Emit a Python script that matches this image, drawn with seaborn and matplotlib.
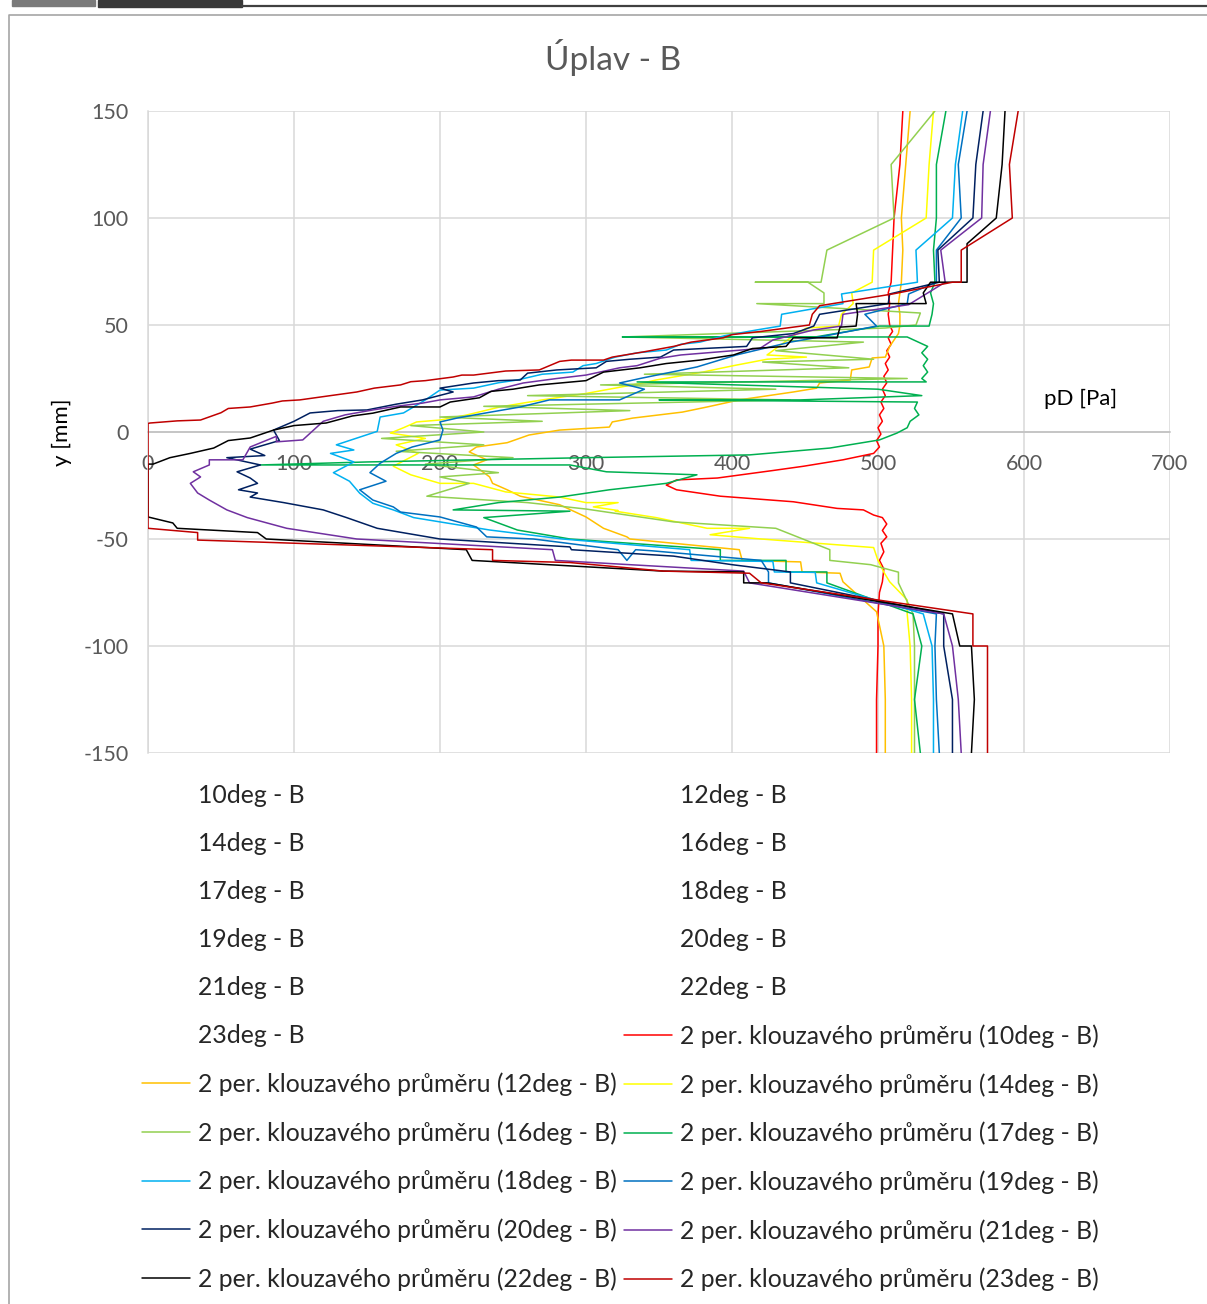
import matplotlib
matplotlib.use("Agg")
import matplotlib.pyplot as plt
from matplotlib.lines import Line2D
from matplotlib.patches import Rectangle
import seaborn as sns
import pandas as pd

# ---- series: (pD [Pa], y [mm]) vertices of the 2-period moving averages, top to bottom ----
ANGLES = ["10deg", "12deg", "14deg", "16deg", "17deg", "18deg",
          "19deg", "20deg", "21deg", "22deg", "23deg"]

MA_10 = [(517,150),(515,125),(511,100),(510,85),(509,70),(507,65),(508,60),(507,55),(508,50),
         (510,47),(507,44),(509,41),(506,38),(508,35),(505,32),(507,29),(504,26),(506,23),(503,20),
         (505,17),(502,14),(504,11),(501,8),(503,5),(500,2),(502,-1),(499,-4),(501,-7),(497,-10),
         (476,-13),(449,-16),(428,-18),(390,-21.5),(362,-22.4),(355,-24.8),(362,-27),(392,-30),
         (442,-32.6),(472,-35.7),(490,-36.4),(497,-38.8),(503,-40),(506,-43),(503,-46),(506,-49),
         (502,-52),(504,-56),(501,-60),(504,-64),(503,-70),(501,-75),(500,-85),(500,-100),
         (499,-125),(499,-150)]
MA_12 = [(522,150),(519,125),(516,100),(517,85),(516,70),(515,65),(514,60),(515,55),(515,50),
         (514,46),(508,40),(505,35),(496,34.6),(494,30.4),(482,29),(481,24.3),(460,22.9),(458,20.5),
         (442,18.7),(405,15),(383,11.7),(366,9.3),(332,6.5),(318,4.7),(316,2.3),(282,0.9),(261,-1.4),
         (246,-5),(225,-7),(220,-9.3),(232,-13),(223,-15.4),(234,-21),(236,-24),(246,-27),(255,-30),
         (282,-34),(300,-39.7),(312,-45),(328,-49),(330,-50),(405,-55),(407,-60),(447,-60.7),
         (448,-65.4),(474,-66),(476,-70),(499,-84),(504,-100),(505,-125),(505,-150)]
MA_14 = [(538,150),(535,125),(533,100),(497,85),(496,70),(482,65),(483,60),(475,55),(473,49.5),
         (451,48.6),(440,44),(424,36),(451,35),(424,34),(401,31),(380,28),(348,24.3),(339,22.9),
         (300,18),(270,15),(241,11.7),(218,7.9),(200,5.6),(184,4.7),(175,2),(166,-0.5),(190,-3),
         (170,-6),(185,-10),(168,-16),(180,-20),(200,-24),(223,-24),(245,-28),(282,-30.4),(300,-33),
         (322,-33),(305,-35),(322,-36.7),(320,-37),(348,-40),(383,-45),(412,-45),(385,-48),(420,-50),
         (497,-54),(500,-60),(504,-65.5),(508,-70),(520,-78.5),(520,-85),(522,-100),(523,-125),
         (523,-150)]
MA_16 = [(539,150),(509,125),(511,100),(465,85),(461,70),(416,70),(452,70),(463,65),(463,60),
         (417,60),(529,55.6),(526,50),(505,48.6),(325,44.4),(490,42),(430,38),(497,34),(421,32.7),
         (480,30),(340,27),(520,25),(310,22),(430,20),(260,17),(440,15),(230,12),(330,10),(200,7),
         (270,5),(180,3),(230,0),(160,-3),(230,-6),(170,-9),(250,-12),(190,-15),(240,-19),(200,-21),
         (220,-24),(191,-30),(260,-33),(300,-36),(330,-39),(360,-42),(430,-45),(467,-55),(467,-60),
         (495,-62),(514,-65.5),(514,-70.5),(524,-85),(525,-100),(525,-125),(525,-150)]
MA_17 = [(546.5,150),(540,125),(540,100),(538,85),(539,70),(536,65),(538,60),(537,55),(535,49.5),
         (501,49.5),(457,44.4),(325,44.4),(520,44.4),(534,40),(530,37),(534,34),(531,31),(534,28),
         (530,25),(533,23.4),(335,23.4),(500,20),(530,17),(447,15),(350,15),(527,14),(525,11),
         (528,8),(522,5),(520,2),(513,-0.5),(501,-3.7),(467,-7.5),(412,-10.7),(300,-12),(150,-14),
         (77,-15.4),(289,-15.4),(314,-18.6),(376,-20),(355,-24),(316,-27),(282,-30.4),(240,-33),
         (209,-36.4),(289,-37),(230,-40),(253,-45.8),(289,-50),(392,-55),(392,-60),(437,-60),
         (437,-65.4),(465,-65.4),(465,-70.5),(524,-85),(530,-100),(525,-125),(529,-150)]
MA_18 = [(558,150),(553,125),(551,100),(526,85),(527,70),(475,64.5),(476,60),(434,55),(433,49.5),
         (417,47.7),(395,45),(378,42),(365,41),(355,38.3),(335,37),(320,35),(307,32),(298,31),
         (291,28),(270,27),(253,24.3),(240,23),(223,20.5),(200,19.6),(190,15),(175,8.9),(159,7),
         (157,0.3),(129,-6),(141,-8.4),(125,-10),(141,-14),(127,-19),
         (138,-23),(145,-28.6),(154,-33.3),(168,-36.4),(182,-40),(234,-45.8),(284,-50),(371,-55),
         (372,-60),(428,-60.5),(429,-65.4),(457,-65.6),(458,-70.5),(531,-85),(537,-100),(538,-125),
         (538,-150)]
MA_19 = [(561,150),(555,125),(557,100),(540,85),(540,70),(521,64.5),(520,60),(491,55),(499,49.5),
         (460,44.4),(440,42),(403,36),(376,30.4),(337,25),(323,22.9),(340,20),(323,15),(275,15),
         (255,11.7),(223,7.9),(211.6,6.5),(200,4.7),(202,0.9),(200,-3.7),(181,-7),(170,-10),
         (159,-14.6),(152,-19),(163,-23),(145,-27),(154,-31.8),(168,-35),(173,-37.4),(200,-39.7),
         (225,-44.4),(232,-49),(264,-50),(322,-55),(328,-60),(334,-55),(345,-55.5),(420,-60),
         (425,-65.4),(425,-70.5),(540,-85),(539,-100),(540,-125),(542,-150)]
MA_20 = [(572,150),(567,125),(565,100),(541,85),(542,70),(508,64.5),(507,60),(460,55),(456,49.5),
         (442,46),(414,44),(410,40),(380,39),(360,38.3),(351,35),(330,34),(314,33),(307,30),
         (280,29),(260,27.5),(255,24.3),(240,24),(223,22.9),(200,20.5),(209,18.7),(188,15),
         (170,13),(150,10.3),(130,10),(111,8.9),(100,5),(86,0.9),(90,-4),
         (70,-8),(80,-11),(54,-12),(77,-15.4),(61,-18.6),(70,-21.5),(75,-24),(62,-27),(75,-28.5),
         (70,-30.4),(93,-33),(120,-36.4),(136,-40),(157,-45),(200,-50),(289,-53.7),(290,-55),
         (360,-58),(400,-62),(440,-65.4),(440,-70.5),(545,-85),(545,-100),(551,-125),(551,-150)]
MA_21 = [(577,150),(572,125),(571,100),(543,85),(546,70),(521,59.5),(476,55),(475,49.5),
         (456,47.7),(428,43),(419,39),(383,37),(365,36),(351,34.5),(335,31),(323,30),(300,26.6),
         (280,25),(257,22.9),(240,20),(223,16.4),(200,15),(188,13.5),(170,12),(154,10.3),(135,8),
         (120,5),(106,-3.7),(88,-4.6),(88,-2),(70,-7),(65,-13),
         (42,-13),(42,-15.4),(31,-18.6),(36,-21),(29,-24),(34,-28.5),(42,-31.8),(54,-36.4),(68,-40),
         (95,-45),(143,-50),(277,-55),(279,-60),(330,-62),(408,-65),(412,-70.5),(545,-85),(551,-100),
         (555,-125),(557,-150)]
MA_22 = [(587,150),(585,125),(581,100),(561,88),(561,70),(536,70),(531,65),(533,60),(485,60),
         (486,55),(485,49.5),(474,49),(472,44),(442,44),(437,40),(414,39),(401,36),(378,33.6),
         (355,32),(337,30),(312,28),(300,24),(268,22),(250,20),(235,19),(227,16),(207,14),(200,11.7),
         (173,11.7),(154,8.8),(140,7.5),(122,4.2),(100,3),(86,0.9),(70,-2.8),(55,-4),(45,-7.5),
         (29,-10),(15,-12),(3.5,-15),(0,-15),
         (0,-39.7),(17,-42.5),(20,-45),(75,-47),(81,-50),(218,-55),(222,-60),(353,-65),(408,-65.4),
         (408,-70.5),(424,-70.5),(551,-85),(556,-100),(564,-100),(566,-125),(564,-150)]
MA_23 = [(596,150),(590,125),(592,100),(557,85),(557,70),(551,70),(510,64.5),(460,59),(455,55),
         (453,50),(420,47),(400,45.5),(394,44),(372,42),(360,40),(340,37.5),(318,35),(312,33.6),
         (290,33.6),(282,33),(275,31),(268,29),(245,28.5),(223,26.6),(215,26.6),(209,25.7),
         (190,24),(180,23.5),(173,22),(155,20.5),(143,18.7),(125,17),(104,15),(92,14.5),(85,13.5),
         (70,11.7),(55,11),(50,9),(36,5.6),(20,5.2),(1.4,4.2),(0,4),(0,-45),(34,-47),(34,-50.5),
         (236,-55),(236,-60),(289,-61),(353,-65),(412,-66),(420,-70.5),(565,-85),(565,-100),
         (575,-100),(575,-125),(575,-150)]

SERIES = [MA_10, MA_12, MA_14, MA_16, MA_17, MA_18, MA_19, MA_20, MA_21, MA_22, MA_23]
COLORS = ["#FF0000", "#FFC000", "#FFFF00", "#92D050", "#00B050", "#00B0F0",
          "#0070C0", "#002060", "#7030A0", "#000000", "#C00000"]

X_TICKS = [0, 100, 200, 300, 400, 500, 600, 700]
Y_TICKS = [-150, -100, -50, 0, 50, 100, 150]

# ---- long table for seaborn ----
rows = []
for ang, pts in zip(ANGLES, SERIES):
    name = f"2 per. klouzavého průměru ({ang} - B)"
    for order, (px, py) in enumerate(pts):
        rows.append({"series": name, "order": order, "pD": px, "y": py})
df = pd.DataFrame(rows)
ma_names = [f"2 per. klouzavého průměru ({a} - B)" for a in ANGLES]
palette = dict(zip(ma_names, COLORS))

sns.set_theme(style="white")
FONT = ["Lato", "DejaVu Sans"]
plt.rcParams["font.family"] = FONT
plt.rcParams["axes.unicode_minus"] = False

W, H = 1207, 1304
fig = plt.figure(figsize=(W / 100, H / 100), dpi=100)

def fx(px):
    return px / W

def fy(py):
    return 1 - py / H

# frame strip and chart border
fig.patches.append(Rectangle((fx(12), fy(6)), fx(83), 6 / H, transform=fig.transFigure,
                             color="#7a7a7a", zorder=0))
fig.patches.append(Rectangle((fx(98), fy(7)), fx(144), 7 / H, transform=fig.transFigure,
                             color="#383838", zorder=0))
fig.lines.append(Line2D([fx(242), 1], [fy(6), fy(6)], transform=fig.transFigure,
                        color="#404040", lw=1.6))
fig.lines.append(Line2D([fx(9), fx(9), 1], [0, fy(15), fy(15)], transform=fig.transFigure,
                        color="#a6a6a6", lw=1.2))

ax = fig.add_axes([fx(148), fy(753), fx(1170 - 148), (753 - 111) / H])
sns.lineplot(data=df, x="pD", y="y", hue="series", hue_order=ma_names, palette=palette,
             sort=False, estimator=None, legend=False, lw=1.1, zorder=3, ax=ax)

ax.set_xlim(0, 700)
ax.set_ylim(-150, 150)
ax.set_xticks(X_TICKS)
ax.set_yticks(Y_TICKS)
ax.grid(True, color="#d9d9d9", lw=1.1)
ax.set_axisbelow(True)
for s in ["top", "right"]:
    ax.spines[s].set_visible(False)
ax.spines["left"].set_color("#d9d9d9")
ax.spines["left"].set_linewidth(1.1)
ax.spines["left"].set_zorder(1)
ax.spines["bottom"].set_position(("data", 0))
ax.spines["bottom"].set_color("#bfbfbf")
ax.spines["bottom"].set_linewidth(1.1)
ax.spines["bottom"].set_zorder(1)
ax.tick_params(axis="both", length=0, labelsize=15.5, labelcolor="#595959")
ax.tick_params(axis="x", pad=15.5)
ax.tick_params(axis="y", pad=14)
ax.set_xlabel("")
ax.set_ylabel("")

fig.text(fx(613), fy(57), "Úplav - B", ha="center", va="center", fontsize=24,
         color="#595959")
fig.text(fx(62), fy(432), "y [mm]", ha="center", va="center", rotation=90,
         fontsize=16, color="#000000")
fig.text(fx(1081), fy(399), "pD [Pa]", ha="center", va="center", fontsize=16,
         color="#000000")

# legend: raw data entries carry no visible mark, moving averages carry their line colour
labels = [f"{a} - B" for a in ANGLES] + ma_names
handles = [Line2D([], [], linestyle="none") for _ in ANGLES] + \
          [Line2D([], [], color=c, lw=1.1) for c in COLORS]
order = list(range(0, len(labels), 2)) + list(range(1, len(labels), 2))
leg = fig.legend([handles[i] for i in order], [labels[i] for i in order], ncol=2,
                 loc="upper left", bbox_to_anchor=(fx(132), fy(774)), frameon=False,
                 fontsize=17.8, handlelength=1.95, handletextpad=0.32, columnspacing=0.28,
                 labelspacing=1.015, borderaxespad=0)

fig.savefig("out.png", dpi=100)
